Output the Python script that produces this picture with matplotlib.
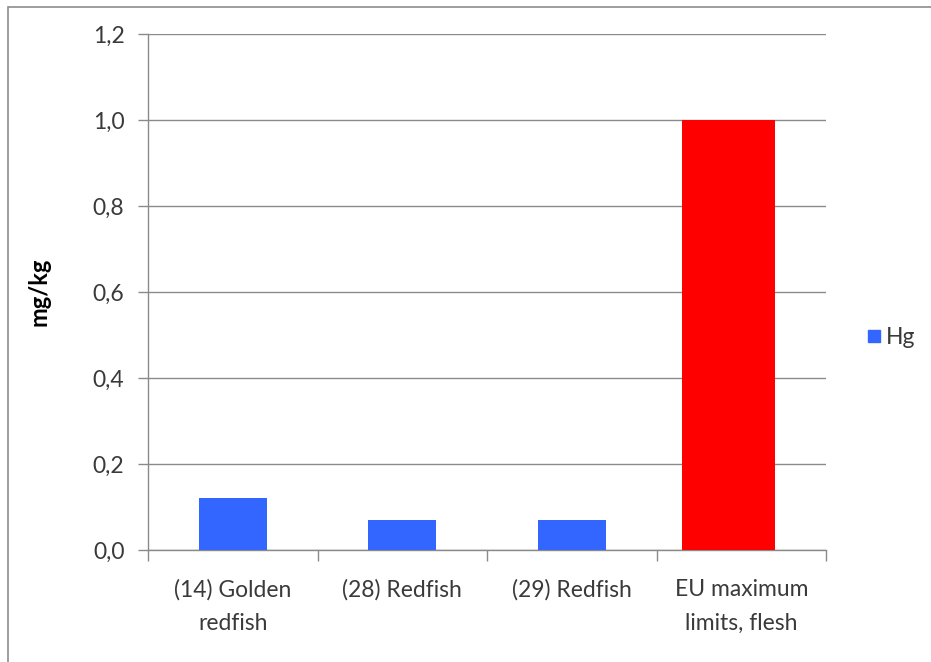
import matplotlib
matplotlib.use("Agg")
import matplotlib.pyplot as plt
from matplotlib.patches import Rectangle
from matplotlib.lines import Line2D

plt.rcParams['font.family'] = ['Lato', 'DejaVu Sans']

# Mercury content of fish samples vs. the EU limit
categories = ["(14) Golden\nredfish", "(28) Redfish", "(29) Redfish", "EU maximum\nlimits, flesh"]
hg_values = [0.12, 0.07, 0.07, 1.0]
bar_colors = ["#3366ff", "#3366ff", "#3366ff", "#ff0000"]
y_ticks = [0.0, 0.2, 0.4, 0.6, 0.8, 1.0, 1.2]
y_tick_labels = ["0,0", "0,2", "0,4", "0,6", "0,8", "1,0", "1,2"]
series_name = "Hg"

W, H = 931, 662
FS = 16.5
fig = plt.figure(figsize=(W / 100, H / 100), dpi=100)
fig.patch.set_facecolor("white")

# outer chart frame
fig.add_artist(Rectangle((8 / W, 0 - 0.01), 1.0, (H - 7) / H + 0.01,
                         transform=fig.transFigure, fill=False,
                         edgecolor="#8c8c8c", linewidth=1.2))

ax = fig.add_axes([148 / W, (H - 550) / H, (826 - 148) / W, (550 - 34) / H])

widths = [0.40, 0.40, 0.40, 0.55]
offsets = [0.0, 0.0, 0.0, -0.075]
xs = [i + 0.5 + o for i, o in enumerate(offsets)]
ax.bar(xs, hg_values, width=widths, color=bar_colors, zorder=3)

ax.set_xlim(0, len(categories))
ax.set_ylim(0, 1.2)

grid_color = "#8a8a8a"
ax.set_yticks(y_ticks)
ax.set_yticklabels(y_tick_labels)
ax.yaxis.grid(True, color=grid_color, linewidth=1.0, zorder=0)
ax.set_axisbelow(True)

# category ticks at the boundaries, labels in the middle
ax.set_xticks(range(len(categories) + 1))
ax.set_xticklabels([])
ax.set_xticks([i + 0.5 for i in range(len(categories))], minor=True)
ax.set_xticklabels(categories, minor=True, fontsize=FS, color="#3a3a3a",
                   linespacing=1.75)
ax.tick_params(axis="x", which="minor", length=0, pad=21)
ax.tick_params(axis="x", which="major", length=8, color=grid_color, width=1.0)
ax.tick_params(axis="y", length=7, color=grid_color, width=1.0,
               labelsize=FS, labelcolor="#3a3a3a", pad=10)

for side in ("top", "right"):
    ax.spines[side].set_visible(False)
for side in ("left", "bottom"):
    ax.spines[side].set_color(grid_color)
    ax.spines[side].set_linewidth(1.0)

ax.set_ylabel("mg/kg", fontsize=17, fontweight="bold", labelpad=30)

# legend
handle = Line2D([], [], marker="s", linestyle="none", markersize=8,
                markerfacecolor="#3366ff", markeredgecolor="#3366ff")
fig.legend([handle], [series_name], loc="center left",
           bbox_to_anchor=(842 / W, (H - 338) / H), frameon=False,
           fontsize=FS, handletextpad=0.0, handlelength=1.0,
           labelcolor="#3a3a3a")

fig.savefig("out.png", dpi=100, facecolor="white")
